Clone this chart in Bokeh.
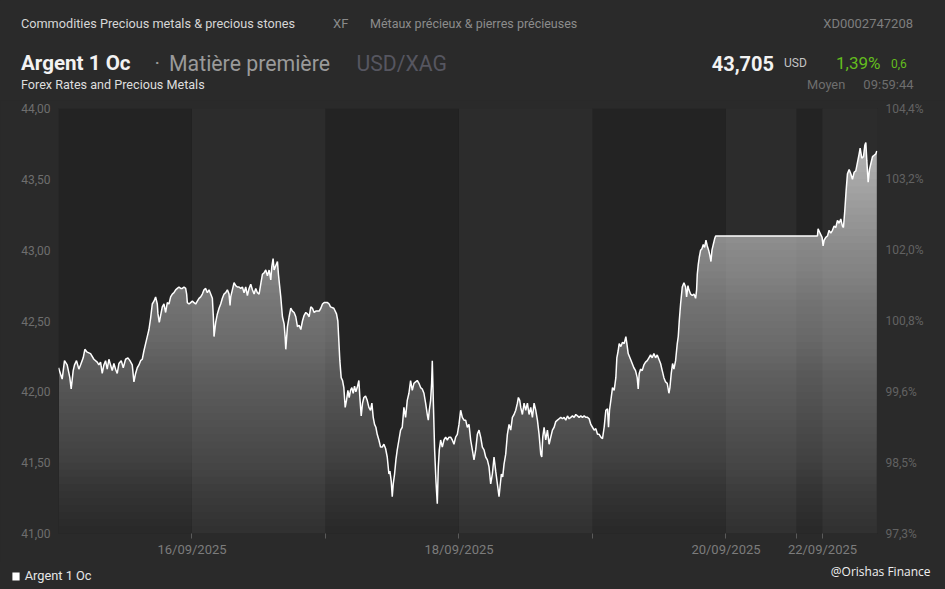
import numpy as np
from bokeh.plotting import figure
from bokeh.layouts import column
from bokeh.models import Range1d, LinearAxis, FixedTicker, Label, Legend, LegendItem
from bokeh.embed import file_html
from bokeh.resources import INLINE

# ---------------- data (x = chart hours from 15/09 00:00, weekend compressed) ----------------
t_1509 = [0.0, 0.66, 1.08, 1.56, 2.04, 2.28, 2.64, 2.88, 3.24, 3.66, 3.96, 4.44, 4.74, 5.16, 5.76, 6.36,
          6.96, 7.26, 7.56, 7.86, 8.16, 8.46, 8.76, 9.06, 9.36, 9.66, 9.96, 10.26, 10.56, 10.86, 11.28,
          11.64, 12.06, 12.48, 12.84, 13.26, 13.56, 13.86, 14.16, 14.46, 14.76, 15.06, 15.36, 15.66,
          15.96, 16.26, 16.56, 16.86, 17.16, 17.46, 17.76, 17.88, 18.12, 18.36, 18.66, 18.96, 19.26,
          19.56, 19.86, 20.16, 20.46, 20.76, 21.06, 21.36, 21.66, 21.96, 22.26, 22.56, 22.86, 23.04,
          23.16, 23.46, 23.76]
p_1509 = [42.17, 42.09, 42.22, 42.19, 42.10, 42.02, 42.15, 42.19, 42.22, 42.16, 42.19, 42.24, 42.30,
          42.28, 42.27, 42.23, 42.21, 42.19, 42.21, 42.13, 42.19, 42.22, 42.16, 42.23, 42.19, 42.15,
          42.20, 42.16, 42.13, 42.20, 42.22, 42.17, 42.23, 42.24, 42.22, 42.19, 42.07, 42.13, 42.17,
          42.19, 42.22, 42.23, 42.29, 42.34, 42.39, 42.44, 42.52, 42.62, 42.64, 42.67, 42.62, 42.55,
          42.49, 42.54, 42.60, 42.62, 42.56, 42.63, 42.62, 42.67, 42.69, 42.70, 42.72, 42.73, 42.74,
          42.73, 42.73, 42.74, 42.73, 42.69, 42.63, 42.62, 42.63]

t_1609 = [24.06, 24.36, 24.66, 24.96, 25.26, 25.56, 25.86, 26.16, 26.46, 26.76, 27.06, 27.36, 27.66,
          27.84, 27.96, 28.26, 28.56, 28.86, 29.16, 29.46, 29.76, 30.06, 30.36, 30.66, 30.84, 30.96,
          31.26, 31.56, 31.86, 32.16, 32.46, 32.76, 33.06, 33.36, 33.66, 33.96, 34.26, 34.56, 34.86,
          35.16, 35.46, 35.76, 36.06, 36.36, 36.66, 36.96, 37.26, 37.56, 37.86, 38.16, 38.34, 38.58,
          38.76, 39.06, 39.36, 39.54, 39.72, 39.96, 40.26, 40.56, 40.74, 40.86, 41.16, 41.46, 41.76,
          42.06, 42.36, 42.66, 42.96, 43.26, 43.56, 43.86, 44.16, 44.46, 44.76, 45.06, 45.36, 45.66,
          45.96, 46.26, 46.56, 46.86, 47.16, 47.46, 47.76]
p_1609 = [42.64, 42.63, 42.62, 42.64, 42.66, 42.67, 42.69, 42.72, 42.73, 42.70, 42.72, 42.69, 42.66,
          42.53, 42.39, 42.49, 42.55, 42.59, 42.62, 42.66, 42.69, 42.70, 42.72, 42.69, 42.61, 42.67,
          42.72, 42.77, 42.75, 42.74, 42.74, 42.73, 42.74, 42.70, 42.74, 42.68, 42.73, 42.76, 42.72,
          42.69, 42.73, 42.70, 42.69, 42.76, 42.83, 42.84, 42.86, 42.82, 42.86, 42.79, 42.88, 42.94,
          42.86, 42.89, 42.92, 42.83, 42.76, 42.67, 42.53, 42.48, 42.39, 42.30, 42.46, 42.53, 42.59,
          42.57, 42.56, 42.53, 42.46, 42.47, 42.44, 42.50, 42.54, 42.56, 42.55, 42.53, 42.60, 42.59,
          42.56, 42.57, 42.57, 42.57, 42.59, 42.62, 42.63]

t_1709 = [48.06, 48.36, 48.66, 48.90, 49.50, 49.98, 50.22, 50.40, 50.58, 50.82, 51.06, 51.30, 51.54,
          51.78, 52.02, 52.26, 52.50, 52.74, 52.98, 53.22, 53.46, 53.70, 54.00, 54.18, 54.42, 54.66,
          54.90, 55.20, 55.50, 55.80, 56.10, 56.34, 56.58, 56.82, 57.06, 57.30, 57.60, 57.90, 58.20,
          58.50, 58.80, 59.10, 59.40, 59.58, 59.82, 60.00, 60.18, 60.42, 60.66, 60.90, 61.20, 61.50,
          61.80, 62.10, 62.40, 62.70, 63.00, 63.30, 63.60, 63.90, 64.20, 64.50, 64.80, 65.10, 65.40,
          65.70, 66.00, 66.30, 66.48, 66.66, 66.90, 67.08, 67.20, 67.38, 67.62, 67.86, 68.10, 68.28,
          68.46, 68.70, 69.00, 69.30, 69.60, 69.90, 70.20, 70.50, 70.80, 71.10, 71.40, 71.70]
p_1709 = [42.63, 42.63, 42.62, 42.60, 42.59, 42.55, 42.50, 42.36, 42.22, 42.10, 42.08, 42.03, 41.89,
          41.94, 42.01, 41.96, 42.01, 42.03, 41.99, 42.04, 42.00, 42.03, 42.08, 41.96, 41.83, 41.92,
          41.96, 41.97, 41.94, 41.89, 41.87, 41.92, 41.82, 41.77, 41.75, 41.70, 41.66, 41.61, 41.61,
          41.63, 41.60, 41.54, 41.42, 41.44, 41.37, 41.26, 41.35, 41.42, 41.52, 41.59, 41.66, 41.73,
          41.75, 41.89, 41.82, 41.94, 41.99, 42.08, 42.01, 42.06, 42.07, 42.08, 42.06, 42.03, 42.02,
          41.99, 41.92, 41.84, 41.80, 41.87, 41.94, 42.06, 42.22, 41.94, 41.59, 41.37, 41.21, 41.47,
          41.59, 41.66, 41.61, 41.66, 41.68, 41.66, 41.68, 41.68, 41.66, 41.63, 41.68, 41.70]

t_1809 = [72.00, 72.30, 72.60, 72.90, 73.20, 73.50, 73.80, 74.10, 74.40, 74.70, 75.00, 75.30, 75.60,
          75.90, 76.20, 76.50, 76.80, 77.10, 77.40, 77.70, 78.00, 78.30, 78.60, 78.90, 79.20, 79.38,
          79.62, 79.86, 80.10, 80.40, 80.70, 81.00, 81.30, 81.60, 81.90, 82.20, 82.50, 82.68, 82.92,
          83.10, 83.40, 83.70, 84.00, 84.30, 84.60, 84.90, 85.20, 85.50, 85.80, 86.10, 86.40, 86.70,
          86.88, 87.06, 87.30, 87.60, 87.90, 88.20, 88.50, 88.80, 89.10, 89.40, 89.70, 90.00, 90.30,
          90.60, 90.90, 91.20, 91.50, 91.80, 92.10, 92.40, 92.70, 93.00, 93.30, 93.60, 93.90, 94.20,
          94.50, 94.80, 95.10, 95.40, 95.70]
p_1809 = [41.77, 41.87, 41.82, 41.80, 41.80, 41.75, 41.77, 41.66, 41.59, 41.52, 41.59, 41.70, 41.73,
          41.68, 41.61, 41.59, 41.54, 41.52, 41.47, 41.35, 41.42, 41.54, 41.44, 41.35, 41.26, 41.33,
          41.42, 41.40, 41.49, 41.56, 41.70, 41.77, 41.73, 41.82, 41.84, 41.87, 41.92, 41.96, 41.94,
          41.89, 41.84, 41.92, 41.87, 41.92, 41.84, 41.89, 41.82, 41.92, 41.87, 41.80, 41.70, 41.56,
          41.54, 41.68, 41.75, 41.66, 41.73, 41.63, 41.68, 41.73, 41.75, 41.79, 41.80, 41.81, 41.82,
          41.81, 41.82, 41.80, 41.83, 41.81, 41.82, 41.83, 41.82, 41.84, 41.83, 41.82, 41.83, 41.82,
          41.83, 41.82, 41.82, 41.81, 41.77]

t_1909_2209 = [96.00, 96.30, 96.60, 96.90, 97.20, 97.50, 97.80, 98.10, 98.40, 98.70, 98.88, 99.06,
               99.30, 99.60, 99.90, 100.20, 100.38, 100.62, 100.80, 101.10, 101.40, 101.70, 102.00,
               102.18, 102.42, 102.84, 103.14, 103.44, 103.74, 104.04, 104.22, 104.40, 104.64, 104.94,
               105.24, 105.54, 105.84, 106.14, 106.44, 106.74, 107.04, 107.34, 107.64, 107.94, 108.24,
               108.54, 108.84, 109.14, 109.44, 109.74, 109.92, 110.16, 110.40, 110.64, 110.94, 111.24,
               111.42, 111.60, 111.84, 112.14, 112.44, 112.74, 112.92, 113.16, 113.34, 113.64, 113.94,
               114.24, 114.54, 114.72, 114.84, 115.02, 115.20, 115.44, 115.68, 115.92, 116.16, 116.40,
               116.64, 116.88, 117.12, 117.30, 117.48, 117.72, 117.96, 118.14, 136.44, 136.56, 136.80,
               137.04, 137.28, 137.46, 137.64, 137.94, 138.24, 138.54, 138.84, 139.14, 139.44, 139.74,
               140.04, 140.34, 140.64, 140.94, 141.12, 141.36, 141.60, 141.84, 142.14, 142.44, 142.74,
               143.04, 143.34, 143.64, 143.94, 144.12, 144.42, 144.72, 144.96, 145.14, 145.32, 145.56,
               145.80, 146.04, 146.34, 146.64, 146.94, 147.12]
p_1909_2209 = [41.75, 41.73, 41.74, 41.70, 41.70, 41.68, 41.67, 41.75, 41.87, 41.88, 41.75, 41.87,
               41.94, 42.03, 42.01, 42.10, 42.24, 42.29, 42.34, 42.32, 42.35, 42.34, 42.39, 42.34,
               42.27, 42.23, 42.20, 42.17, 42.15, 42.10, 42.02, 42.13, 42.16, 42.15, 42.19, 42.21,
               42.22, 42.24, 42.26, 42.24, 42.27, 42.24, 42.26, 42.23, 42.20, 42.15, 42.10, 42.07,
               42.06, 41.99, 42.03, 42.13, 42.20, 42.16, 42.22, 42.34, 42.39, 42.50, 42.62, 42.74,
               42.77, 42.74, 42.67, 42.75, 42.72, 42.69, 42.68, 42.69, 42.66, 42.72, 42.83, 42.90,
               42.95, 43.00, 43.01, 43.04, 43.02, 43.07, 43.03, 43.00, 42.96, 42.92, 43.00, 43.04,
               43.08, 43.10, 43.10, 43.15, 43.13, 43.11, 43.09, 43.03, 43.07, 43.09, 43.10, 43.14,
               43.12, 43.14, 43.17, 43.16, 43.21, 43.19, 43.22, 43.17, 43.16, 43.28, 43.42, 43.54,
               43.57, 43.54, 43.50, 43.55, 43.56, 43.62, 43.68, 43.72, 43.65, 43.66, 43.74, 43.76,
               43.63, 43.48, 43.57, 43.61, 43.66, 43.67, 43.68, 43.70]

price_ticks = [41.0, 41.5, 42.0, 42.5, 43.0, 43.5, 44.0]
price_tick_labels = ["41,00", "41,50", "42,00", "42,50", "43,00", "43,50", "44,00"]
pct_tick_labels = ["97,3%", "98,5%", "99,6%", "100,8%", "102,0%", "103,2%", "104,4%"]
date_ticks = [24.0, 48.0, 72.0, 96.0, 120.0, 132.67, 137.35]
date_tick_labels = ["16/09/2025", "", "18/09/2025", "", "20/09/2025", "", "22/09/2025"]
day_band_edges = [0.0, 24.0, 48.0, 72.0, 96.0, 120.0, 132.67, 137.35, 147.24]

hours = np.array(t_1509 + t_1609 + t_1709 + t_1809 + t_1909_2209)
price = np.array(p_1509 + p_1609 + p_1709 + p_1809 + p_1909_2209)

# ---------------- styling ----------------
BG = "#2a2a2a"
BAND_DARK = "#232323"
BAND_LIGHT = "#2c2c2c"
FONT = "Roboto"
W = 945


def blank(height):
    f = figure(width=W, height=height, output_backend="svg", toolbar_location=None,
               x_range=Range1d(0, W), y_range=Range1d(height, 0),
               x_axis_location=None, y_axis_location=None, min_border=0,
               frame_align=False)
    f.background_fill_color = BG
    f.border_fill_color = BG
    f.outline_line_color = None
    f.grid.visible = False
    return f


def lab(f, text, x, y, size, color, style="normal", align="left", font=FONT):
    f.add_layout(Label(text=text, x=x, y=y, text_font=font, text_font_size=size,
                       text_color=color, text_font_style=style, text_align=align,
                       text_baseline="alphabetic"))


# ---------------- header ----------------
head = blank(100)
lab(head, "Commodities Precious metals & precious stones", 20.5, 23.3, "12.7px", "#d6d6d6")
lab(head, "XF", 332.5, 23.3, "13px", "#8a8a8a")
lab(head, "Métaux précieux & pierres précieuses", 369.5, 23.3, "12.5px", "#8c8c8c")
lab(head, "XD0002747208", 912.5, 23.3, "13px", "#7e7e7e", align="right")

lab(head, "Argent 1 Oc", 20.5, 62.7, "20.6px", "#f2f2f2", style="bold")
lab(head, "·", 154, 62.7, "21px", "#9a9a9a")
lab(head, "Matière première", 168.5, 62.7, "21.3px", "#9a9a9a")
lab(head, "USD/XAG", 356, 62.7, "21.2px", "#565660")
lab(head, "43,705", 773.5, 62.7, "20px", "#f2f2f2", style="bold", align="right")
lab(head, "USD", 783.5, 62.7, "12px", "#c4c4c4")
lab(head, "1,39%", 835.5, 62.7, "17px", "#63bd1e")
lab(head, "0,6", 890.5, 62.7, "12px", "#63bd1e")

lab(head, "Forex Rates and Precious Metals", 20.5, 84.3, "12.6px", "#dedede")
lab(head, "Moyen", 806.5, 84.3, "12.8px", "#6e6e6e")
lab(head, "09:59:44", 913, 84.3, "13px", "#6e6e6e", align="right")

# ---------------- main chart ----------------
p = figure(width=W, height=461, output_backend="svg", toolbar_location=None,
           x_range=Range1d(day_band_edges[0], day_band_edges[-1]), y_range=Range1d(41, 44),
           min_border_left=58, min_border_right=68, min_border_top=8, min_border_bottom=28,
           frame_align=False)
p.background_fill_color = BG
p.border_fill_color = BG
p.outline_line_color = None
p.grid.visible = False

lefts = day_band_edges[:-1]
rights = day_band_edges[1:]
band_colors = [BAND_DARK if i % 2 == 0 else BAND_LIGHT for i in range(len(lefts))]
p.quad(left=lefts, right=rights, bottom=41, top=44, fill_color=band_colors, line_color=None)

# vertical gradient under the curve: stacked translucent layers, each from a level up to the curve
n_layers = 60
step = 3.0 / n_layers
prev = 0.0
for k in range(n_layers):
    lo = 41 + k * step
    if price.max() <= lo:
        break
    target = min(0.95, 0.02 + 0.25 * (lo + step / 2 - 41))
    b = target if k == 0 else 1 - (1 - target) / (1 - prev)
    prev = target
    p.varea(x=hours, y1=np.full_like(price, lo), y2=np.maximum(price, lo),
            fill_color="#ffffff", fill_alpha=b)

p.line(hours, price, line_color="#ffffff", line_width=1.5)

yl = p.yaxis[0]
yl.ticker = FixedTicker(ticks=price_ticks)
yl.major_label_overrides = dict(zip(price_ticks, price_tick_labels))
yr = LinearAxis(ticker=FixedTicker(ticks=price_ticks),
                major_label_overrides=dict(zip(price_ticks, pct_tick_labels)))
p.add_layout(yr, "right")
for ax in (yl, yr):
    ax.axis_line_color = None
    ax.major_tick_line_color = None
    ax.minor_tick_line_color = None
    ax.major_tick_out = 0
    ax.major_tick_in = 0
    ax.major_label_standoff = 8
    ax.major_label_text_font = FONT
    ax.major_label_text_font_size = "12px"
yl.major_label_text_color = "#6e6e6e"
yr.major_label_text_color = "#626262"

xa = p.xaxis[0]
xa.ticker = FixedTicker(ticks=date_ticks)
xa.major_label_overrides = dict(zip(date_ticks, date_tick_labels))
xa.axis_line_color = None
xa.minor_tick_line_color = None
xa.major_tick_line_color = "#5a5a5a"
xa.major_tick_out = 5
xa.major_tick_in = 0
xa.major_label_standoff = 3
xa.major_label_text_font = FONT
xa.major_label_text_font_size = "13px"
xa.major_label_text_color = "#7c7c7c"

# ---------------- footer: legend + watermark ----------------
foot = blank(28)
lab(foot, "@Orishas Finance", 930, 9.7, "12px", "#f0f0f0", font="Open Sans", align="right")
leg_r = foot.quad(left=[0], right=[0], top=[0], bottom=[0], fill_color="#ffffff", line_color=None)
legend = Legend(items=[LegendItem(label="Argent 1 Oc", renderers=[leg_r])],
                location=(10.7, 6), orientation="horizontal",
                glyph_width=9, glyph_height=10, label_height=10, label_standoff=5,
                padding=0, margin=0, spacing=0,
                border_line_color=None, background_fill_alpha=0,
                label_text_font=FONT, label_text_font_size="12.8px", label_text_color="#e6e6e6")
foot.add_layout(legend, "center")

layout = column(head, p, foot, spacing=0)
layout.styles = {"background-color": BG}
open("out.html", "w").write(file_html(layout, INLINE))
